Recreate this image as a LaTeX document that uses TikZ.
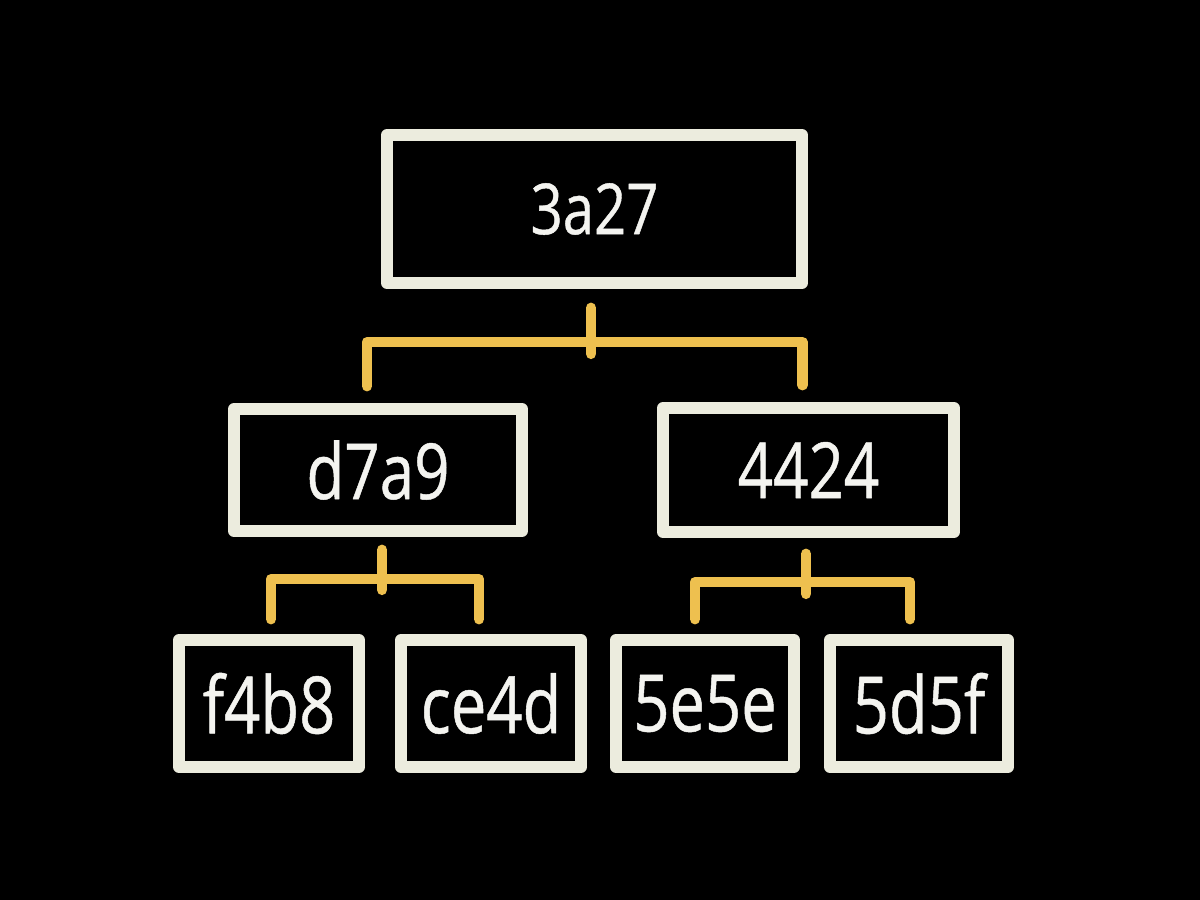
\documentclass[tikz,border=0pt]{standalone}
\usepackage{fontspec}
\setmainfont{Open Sans}[FakeStretch=0.8,FakeBold=0.6]
\usetikzlibrary{calc}
\definecolor{chalk}{HTML}{ECECDE}
\definecolor{chalktext}{HTML}{F4F4F0}
\definecolor{chalkyellow}{HTML}{EEC04F}
\begin{document}
\begin{tikzpicture}[x=0.01cm,y=-0.01cm,
  hashbox/.style={draw=chalk,line width=3.3pt,fill=black,text=chalktext,inner sep=0pt,line join=round},
  toptext/.style={font=\fontsize{20}{20}\selectfont},
  midtext/.style={font=\fontsize{22}{22}\selectfont},
  leaftext/.style={font=\fontsize{22.5}{22.5}\selectfont},
  link/.style={draw=chalkyellow,line width=3pt,line cap=round,line join=round}]
\fill[black] (0,0) rectangle (1200,900);
\useasboundingbox (0,0) rectangle (1200,900);
% root
\node[hashbox,toptext,minimum width=4.15cm,minimum height=1.48cm] (root) at (594.5,209) {3a27};
% middle level
\node[hashbox,midtext,minimum width=2.88cm,minimum height=1.22cm] (L) at (378,470) {d7a9};
\node[hashbox,midtext,minimum width=2.91cm,minimum height=1.24cm] (R) at (808.5,470) {4424};
% leaves
\node[hashbox,leaftext,minimum width=1.80cm,minimum height=1.27cm] (A) at (269,703.5) {f4b8};
\node[hashbox,leaftext,minimum width=1.80cm,minimum height=1.27cm] (B) at (491,703.5) {ce4d};
\node[hashbox,leaftext,minimum width=1.78cm,minimum height=1.27cm] (C) at (705,703.5) {5e5e};
\node[hashbox,leaftext,minimum width=1.78cm,minimum height=1.27cm] (D) at (919,703.5) {5d5f};
% connectors root
\draw[link] ($(root.south)+(-3.5,19)$) -- ($(root.south)+(-3.5,65)$);
\draw[link] ($(L.north)+(-11,-17)$) -- ($(L.north)+(-11,-61)$) -| ($(R.north)+(-6,-17)$);
% connectors left
\draw[link] ($(L.south)+(4,13)$) -- ($(L.south)+(4,53)$);
\draw[link] ($(A.north)+(2,-15)$) -- ($(A.north)+(2,-55)$) -| ($(B.north)+(-12,-15)$);
% connectors right
\draw[link] ($(R.south)+(-2.5,16)$) -- ($(R.south)+(-2.5,56)$);
\draw[link] ($(C.north)+(-10,-15)$) -- ($(C.north)+(-10,-52)$) -| ($(D.north)+(-9,-15)$);
\end{tikzpicture}
\end{document}
